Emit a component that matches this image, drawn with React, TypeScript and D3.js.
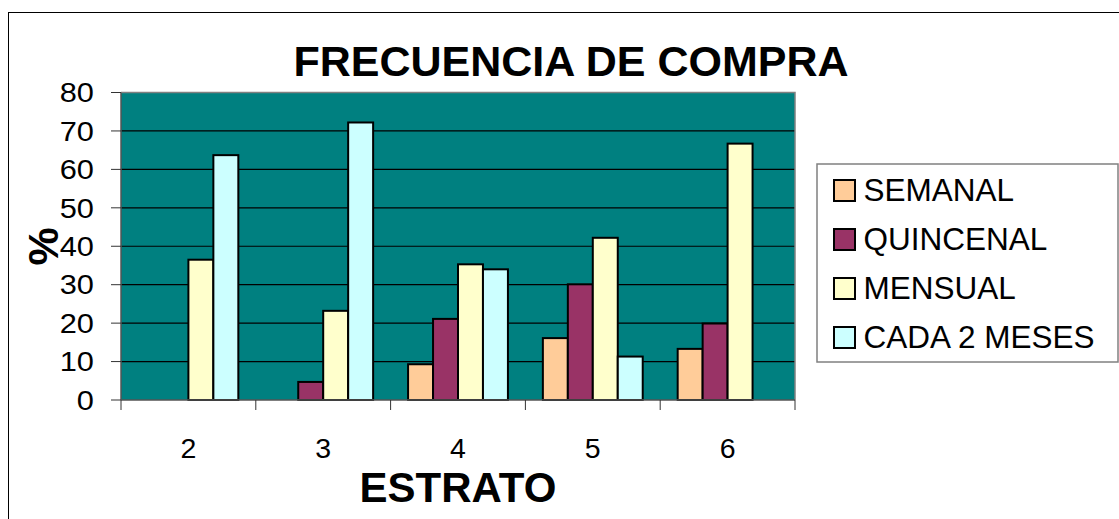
import React from "react";
import * as d3 from "d3";

const categories = ["2", "3", "4", "5", "6"];
const seriesNames = ["SEMANAL", "QUINCENAL", "MENSUAL", "CADA 2 MESES"];
const semanal = [0, 0, 9.3, 16.1, 13.3];
const quincenal = [0, 4.7, 21.1, 30.1, 19.9];
const mensual = [36.5, 23.2, 35.3, 42.2, 66.7];
const cada2Meses = [63.7, 72.2, 34.0, 11.3, 0];
const yTicks = [0, 10, 20, 30, 40, 50, 60, 70, 80];

const seriesValues = [semanal, quincenal, mensual, cada2Meses];
const colors = ["#FFCC99", "#993366", "#FFFFCC", "#CCFFFF"];

const W = 1119;
const H = 519;
const plot = { left: 121, right: 795, top: 92.5, bottom: 400 };
const FONT = "Arial, 'Liberation Sans', Helvetica, sans-serif";

export default function App() {
  const x0 = d3.scaleBand<string>().domain(categories).range([plot.left, plot.right]).padding(0);
  const x1 = d3
    .scaleBand<string>()
    .domain(seriesNames)
    .range([0, x0.bandwidth()])
    .paddingInner(0)
    .paddingOuter(0.7);
  const y = d3.scaleLinear().domain([0, 80]).range([plot.bottom, plot.top]);

  const legendRows = seriesNames.map((name, i) => ({ name, color: colors[i], baseline: 200.5 + i * 49 }));

  return (
    <svg
      width={W}
      height={H}
      style={{ position: "absolute", left: 0, top: 0, display: "block", background: "#fff" }}
      fontFamily={FONT}
    >
      {/* outer chart frame */}
      <rect x={8.5} y={12.5} width={1140} height={540} fill="#fff" stroke="#000" strokeWidth={1} />

      {/* title */}
      <text x={571} y={76} textAnchor="middle" fontSize={43} fontWeight="bold" fill="#000">
        FRECUENCIA DE COMPRA
      </text>

      {/* plot background */}
      <rect x={plot.left} y={plot.top} width={plot.right - plot.left} height={plot.bottom - plot.top} fill="#008080" />

      {/* gridlines */}
      {yTicks
        .filter((t) => t > 0 && t < 80)
        .map((t) => (
          <line key={t} x1={plot.left} x2={plot.right} y1={y(t)} y2={y(t)} stroke="#000" strokeWidth={1.2} />
        ))}

      {/* plot top/right border */}
      <polyline
        points={`${plot.left},${plot.top} ${plot.right},${plot.top} ${plot.right},${plot.bottom}`}
        fill="none"
        stroke="#808080"
        strokeWidth={1.5}
      />

      {/* bars */}
      {categories.map((c, ci) => (
        <g key={c} transform={`translate(${x0(c)},0)`}>
          {seriesNames.map((s, si) => {
            const v = seriesValues[si][ci];
            if (!v) return null;
            return (
              <rect
                key={s}
                x={x1(s)}
                y={y(v)}
                width={x1.bandwidth()}
                height={y(0) - y(v)}
                fill={colors[si]}
                stroke="#000"
                strokeWidth={2}
              />
            );
          })}
        </g>
      ))}

      {/* y axis */}
      <line x1={plot.left} x2={plot.left} y1={plot.top} y2={plot.bottom} stroke="#555" strokeWidth={1.5} />
      {yTicks.map((t) => (
        <g key={t}>
          <line x1={plot.left - 10} x2={plot.left} y1={y(t)} y2={y(t)} stroke="#333" strokeWidth={1} />
          <text
            transform={`translate(${plot.left - 27},${y(t) + 9.8}) scale(1.12,1)`}
            textAnchor="end"
            fontSize={27.5}
            fill="#000"
          >
            {t}
          </text>
        </g>
      ))}

      {/* x axis */}
      <line x1={plot.left} x2={plot.right} y1={plot.bottom} y2={plot.bottom} stroke="#555" strokeWidth={1.5} />
      {d3.range(categories.length + 1).map((i) => {
        const xx = plot.left + i * x0.step();
        return <line key={i} x1={xx} x2={xx} y1={plot.bottom} y2={plot.bottom + 10} stroke="#333" strokeWidth={1} />;
      })}
      {categories.map((c) => (
        <text key={c} x={(x0(c) ?? 0) + x0.bandwidth() / 2} y={458} textAnchor="middle" fontSize={28.5} fill="#000">
          {c}
        </text>
      ))}

      {/* axis titles */}
      <text x={(plot.left + plot.right) / 2} y={502} textAnchor="middle" fontSize={42} fontWeight="bold" fill="#000">
        ESTRATO
      </text>
      <text
        transform={`translate(58,246.5) rotate(-90)`}
        textAnchor="middle"
        fontSize={43}
        fontWeight="bold"
        fill="#000"
      >
        %
      </text>

      {/* legend */}
      <rect x={817} y={164} width={301} height={198} fill="#fff" stroke="#808080" strokeWidth={1.5} />
      {legendRows.map((r) => (
        <g key={r.name}>
          <rect x={834} y={r.baseline - 20.5} width={21} height={21} fill={r.color} stroke="#000" strokeWidth={2} />
          <text x={863.5} y={r.baseline} fontSize={31.5} fill="#000">
            {r.name}
          </text>
        </g>
      ))}
    </svg>
  );
}
